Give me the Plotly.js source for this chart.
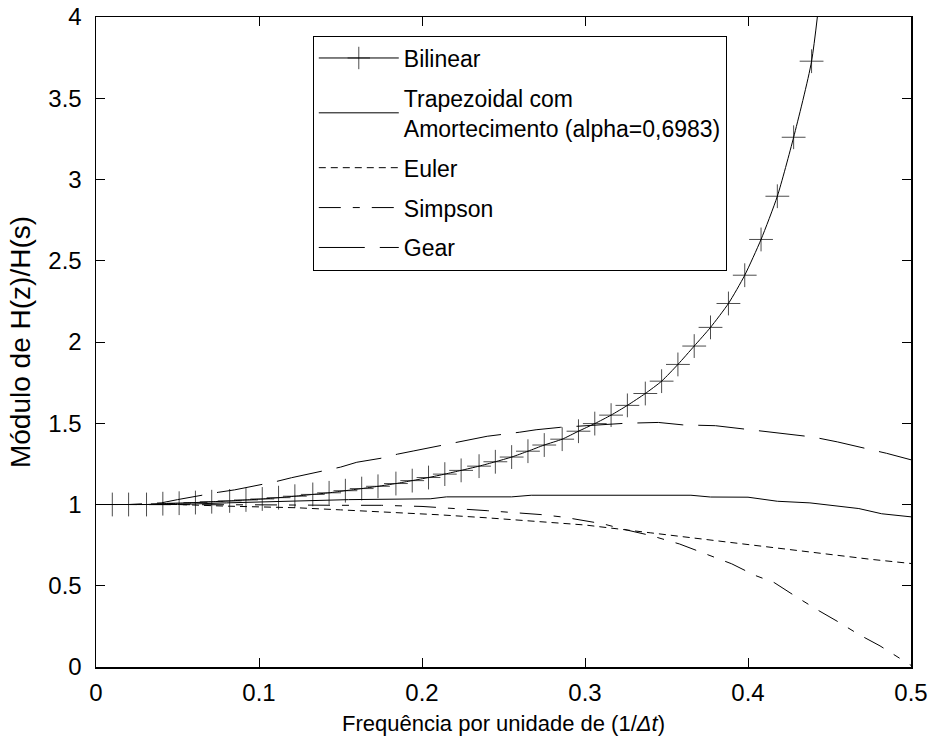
<!DOCTYPE html>
<html><head><meta charset="utf-8">
<script src="https://cdn.plot.ly/plotly-3.0.1.min.js"></script>
<style>html,body{margin:0;padding:0;background:#fff}</style>
</head><body>
<div id="chart" style="width:935px;height:747px"></div>
<script>
// Bilinear (with '+' markers); first/last points only carry the line
const bilinearFreq = [0, 0.010, 0.020, 0.031, 0.041, 0.051, 0.061, 0.071, 0.082, 0.092, 0.102,
  0.112, 0.122, 0.133, 0.143, 0.153, 0.163, 0.173, 0.184, 0.194, 0.204,
  0.214, 0.224, 0.235, 0.245, 0.255, 0.265, 0.275, 0.286, 0.296, 0.306,
  0.316, 0.326, 0.337, 0.347, 0.357, 0.367, 0.377, 0.388, 0.398, 0.408,
  0.418, 0.428, 0.439, 0.449];
const bilinearMod = [1.00, 1.00, 1.00, 1.00, 1.005, 1.008, 1.012, 1.017, 1.022, 1.028, 1.034,
  1.042, 1.051, 1.062, 1.072, 1.085, 1.098, 1.112, 1.129, 1.147, 1.166,
  1.187, 1.210, 1.236, 1.263, 1.292, 1.328, 1.366, 1.402, 1.451, 1.498,
  1.550, 1.610, 1.683, 1.759, 1.862, 1.975, 2.090, 2.237, 2.411, 2.631,
  2.897, 3.260, 3.728, 4.600];

// Trapezoidal com amortecimento
const trapFreq = [0, 0.05, 0.08, 0.12, 0.155, 0.205, 0.215, 0.255, 0.267, 0.365, 0.377, 0.40, 0.418, 0.438, 0.468, 0.482, 0.50];
const trapMod  = [1.00, 1.00, 1.01, 1.022, 1.030, 1.035, 1.047, 1.047, 1.057, 1.057, 1.046, 1.045, 1.020, 1.010, 0.975, 0.943, 0.924];

// Euler
const eulerFreq = [0, 0.05, 0.08, 0.10, 0.123, 0.15, 0.18, 0.21, 0.24, 0.27, 0.30, 0.34, 0.37, 0.40, 0.43, 0.45, 0.475, 0.50];
const eulerMod  = [1.00, 1.00, 0.99, 0.986, 0.98, 0.967, 0.953, 0.937, 0.918, 0.897, 0.874, 0.826, 0.790, 0.752, 0.714, 0.690, 0.663, 0.637];

// Simpson
const simpsonFreq = [0, 0.06, 0.10, 0.15, 0.175, 0.20, 0.21, 0.22, 0.24, 0.25, 0.26, 0.273, 0.287, 0.30, 0.311, 0.326, 0.34, 0.358, 0.374, 0.39, 0.404, 0.416, 0.429, 0.442, 0.455, 0.468, 0.481, 0.494, 0.50];
const simpsonMod  = [1.00, 1.00, 0.998, 0.995, 0.995, 0.988, 0.983, 0.975, 0.962, 0.955, 0.949, 0.938, 0.922, 0.900, 0.881, 0.842, 0.810, 0.757, 0.698, 0.635, 0.565, 0.520, 0.436, 0.355, 0.280, 0.200, 0.130, 0.046, 0.010];

// Gear
const gearFreq = [0, 0.02, 0.04, 0.05, 0.075, 0.085, 0.11, 0.12, 0.15, 0.16, 0.175, 0.185, 0.195, 0.21, 0.225, 0.24, 0.26, 0.27, 0.285, 0.30, 0.31, 0.325, 0.345, 0.36, 0.38, 0.41, 0.42, 0.44, 0.455, 0.485, 0.50];
const gearMod  = [1.00, 1.00, 1.01, 1.03, 1.075, 1.09, 1.14, 1.165, 1.23, 1.26, 1.285, 1.31, 1.33, 1.36, 1.39, 1.42, 1.445, 1.46, 1.475, 1.485, 1.49, 1.50, 1.505, 1.49, 1.485, 1.45, 1.44, 1.415, 1.385, 1.315, 1.275];

const seriesNames = ['Bilinear', 'Trapezoidal com<br>Amortecimento (alpha=0,6983)', 'Euler', 'Simpson', 'Gear'];
const xTickVals = [0, 0.1, 0.2, 0.3, 0.4, 0.5];
const xTickText = ['0', '0.1', '0.2', '0.3', '0.4', '0.5'];
const yTickVals = [0, 0.5, 1, 1.5, 2, 2.5, 3, 3.5, 4];
const yTickText = ['0', '0.5', '1', '1.5', '2', '2.5', '3', '3.5', '4'];

const FONT = 'Liberation Sans';
const markerSizes = bilinearMod.map((v, i) => (i === 0 || i === bilinearMod.length - 1) ? 0 : 17);

const traces = [
  {x: bilinearFreq, y: bilinearMod, name: seriesNames[0], legendgroup: 'g1', mode: 'lines+markers',
   line: {color: '#000', width: 1, shape: 'spline', smoothing: 0.6},
   marker: {symbol: 'cross-thin-open', size: markerSizes, color: '#000', line: {color: '#000', width: 1}}},
  {x: trapFreq, y: trapMod, name: seriesNames[1], legendgroup: 'g2', mode: 'lines',
   line: {color: '#000', width: 1}},
  {x: eulerFreq, y: eulerMod, name: seriesNames[2], legendgroup: 'g3', mode: 'lines',
   line: {color: '#000', width: 1, dash: '7px,5px'}},
  {x: simpsonFreq, y: simpsonMod, name: seriesNames[3], legendgroup: 'g4', mode: 'lines',
   line: {color: '#000', width: 1, dash: '22px,12px,7px,12px'}},
  {x: gearFreq, y: gearMod, name: seriesNames[4], legendgroup: 'g5', mode: 'lines',
   line: {color: '#000', width: 1, dash: '46px,15px'}}
];

const axisCommon = {
  showgrid: false, zeroline: false, showline: true, mirror: 'ticks',
  linecolor: '#000', linewidth: 1.5, ticks: 'inside', ticklen: 9, tickwidth: 1, tickcolor: '#000',
  tickfont: {family: FONT, size: 24, color: '#000'}, tickmode: 'array'
};

const layout = {
  width: 935, height: 747,
  margin: {l: 96, r: 24, t: 17, b: 80},
  paper_bgcolor: '#fff', plot_bgcolor: '#fff',
  font: {family: FONT, color: '#000'},
  showlegend: true,
  legend: {
    x: 0.266, y: 0.9715, xanchor: 'left', yanchor: 'top',
    bgcolor: '#fff', bordercolor: '#000', borderwidth: 1,
    font: {family: FONT, size: 23, color: '#000'},
    traceorder: 'grouped', tracegroupgap: 7, itemwidth: 80
  },
  xaxis: Object.assign({}, axisCommon, {
    range: [0, 0.5], tickvals: xTickVals, ticktext: xTickText, ticklabelstandoff: 4,
    title: {text: 'Frequência por unidade de (1/<i>Δt</i>)', font: {family: FONT, size: 22, color: '#000'}, standoff: 10}
  }),
  yaxis: Object.assign({}, axisCommon, {
    range: [0, 4], tickvals: yTickVals, ticktext: yTickText, ticklabelstandoff: 8,
    title: {text: 'Módulo de H(z)/H(s)', font: {family: FONT, size: 28, color: '#000'}, standoff: 9}
  })
};

Plotly.newPlot('chart', traces, layout, {displayModeBar: false, staticPlot: true});
</script>
</body></html>
